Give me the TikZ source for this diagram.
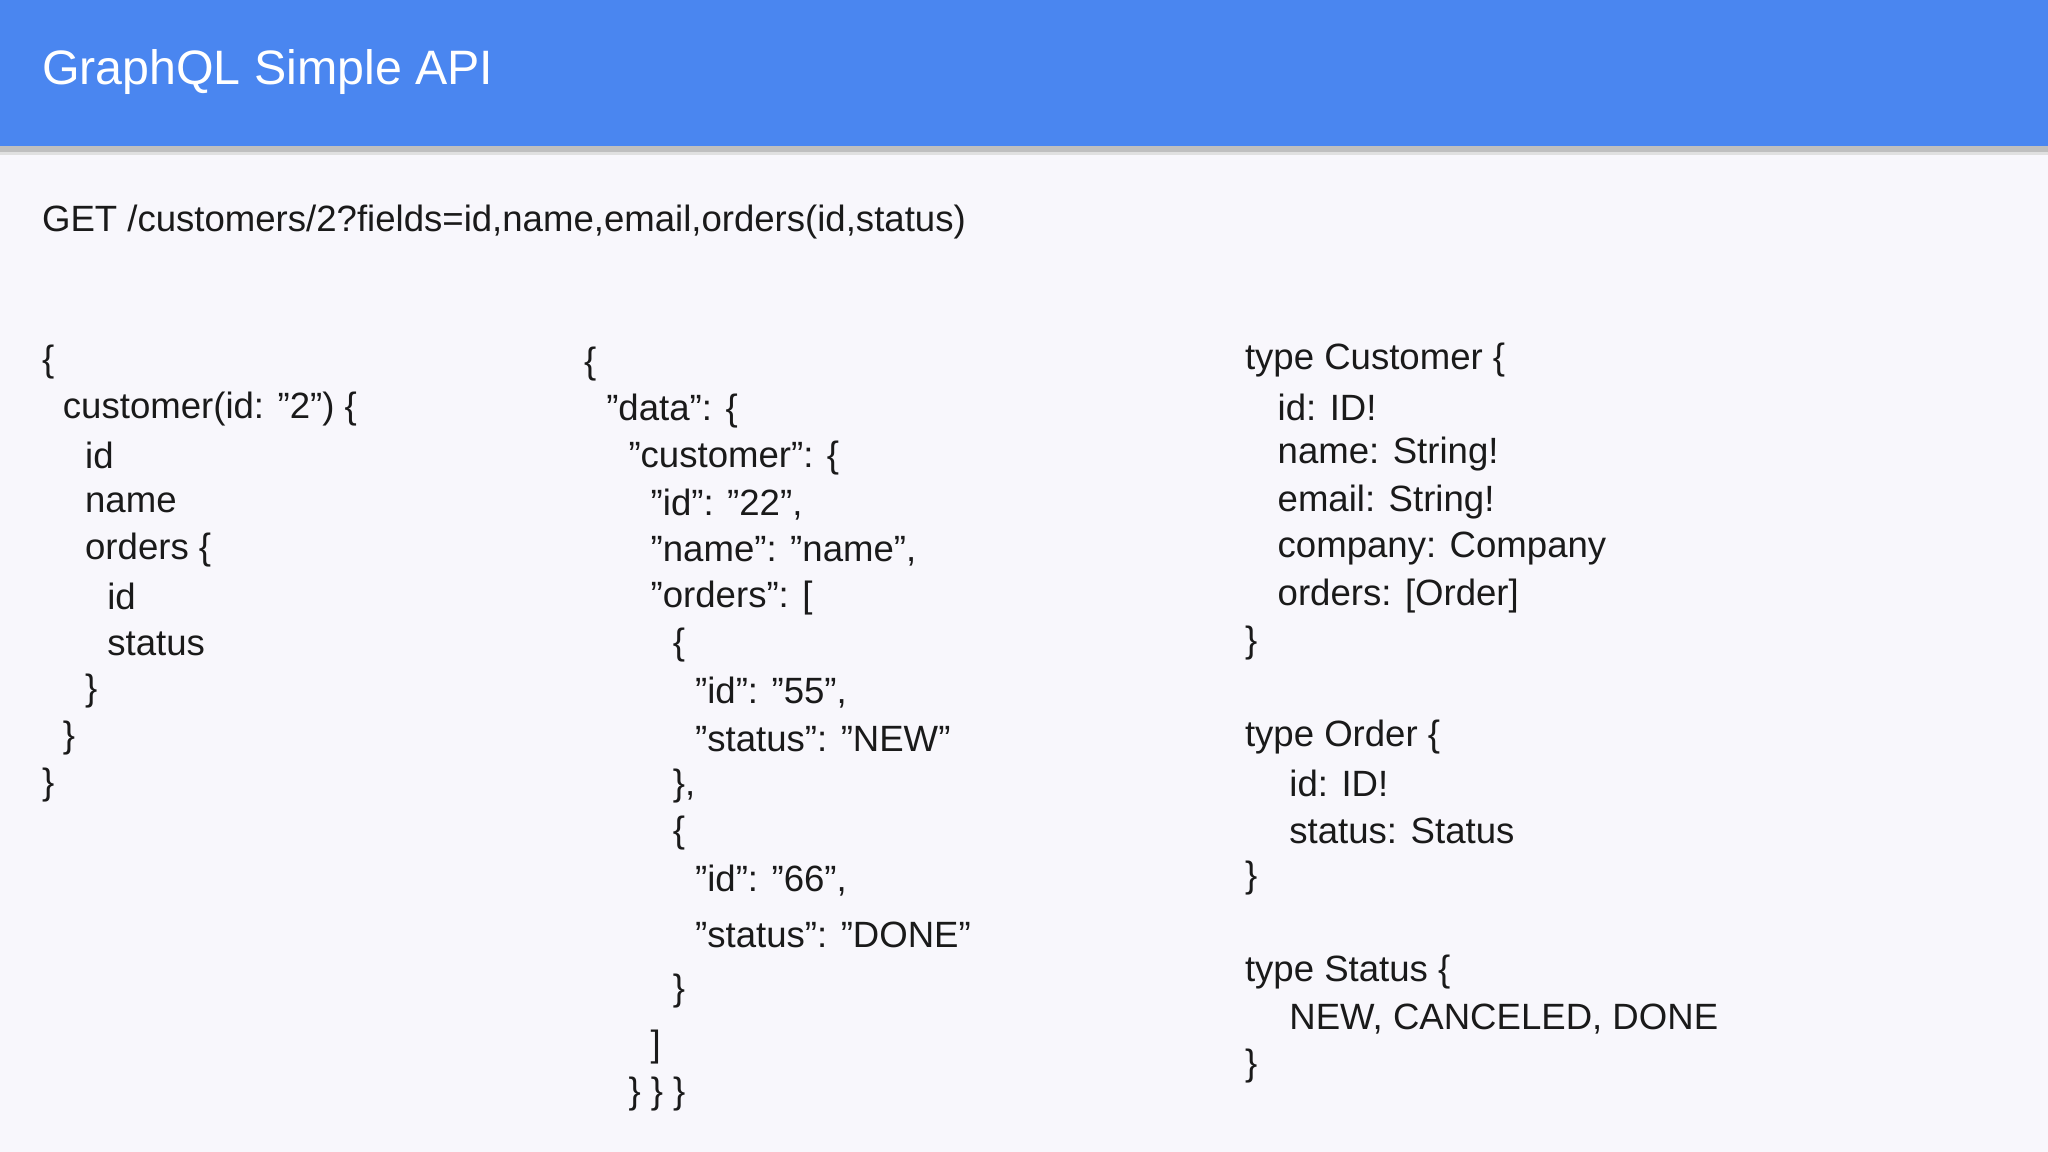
\documentclass[tikz,border=0pt]{standalone}
\usepackage{fontspec}
\setmainfont{Liberation Sans}
\definecolor{hdr}{HTML}{4A86F0}
\definecolor{bg}{HTML}{F8F7FC}
\definecolor{txt}{HTML}{1A1A1A}
\begin{document}
\begin{tikzpicture}[x=1pt,y=-1pt,
  ln/.style={anchor=west,inner sep=0pt,text=txt,font=\fontsize{28}{30}\selectfont},
  ttl/.style={anchor=west,inner sep=0pt,text=white,font=\fontsize{37}{40}\selectfont}]
\useasboundingbox (0,0) rectangle (1568,882);
\fill[bg] (0,0) rectangle (1568,882);
\fill[black!25] (0,112) rectangle (1568,116);
\fill[black!12] (0,116) rectangle (1568,119);
\fill[hdr] (0,0) rectangle (1568,112);
\node[ttl] (title) at (32,55) {GraphQL Simple API};
\node[ln] (get) at (32,170) {GET /customers/2?fields=id,name,email,orders(id,status)};
% left
\node[ln] (l1) at (32,277) {\{};
\node[ln] (l2) at (48,313) {customer(id: "2") \{};
\node[ln] (l3) at (65,349) {id};
\node[ln] (l4) at (65,385) {name};
\node[ln] (l5) at (65,421) {orders \{};
\node[ln] (l6) at (82,457) {id};
\node[ln] (l7) at (82,493) {status};
\node[ln] (l8) at (65,529) {\}};
\node[ln] (l9) at (48,565) {\}};
\node[ln] (l10) at (32,601) {\}};
% middle
\node[ln] (m1) at (447,279) {\{};
\node[ln] (m2) at (464,315) {"data": \{};
\node[ln] (m3) at (481,351) {"customer": \{};
\node[ln] (m4) at (498,386) {"id": "22",};
\node[ln] (m5) at (498,422) {"name": "name",};
\node[ln] (m6) at (498,458) {"orders": [};
\node[ln] (m7) at (515,494) {\{};
\node[ln] (m8) at (532,530) {"id": "55",};
\node[ln] (m9) at (532,566) {"status": "NEW"};
\node[ln] (m10) at (515,602) {\},};
\node[ln] (m11) at (515,638) {\{};
\node[ln] (m12) at (532,674) {"id": "66",};
\node[ln] (m13) at (532,716) {"status": "DONE"};
\node[ln] (m14) at (515,759) {\}};
\node[ln] (m15) at (498,802) {]};
\node[ln] (m16) at (481,838) {\} \} \}};
% right
\node[ln] (r1) at (953,276) {type Customer \{};
\node[ln] (r2) at (978,312) {id: ID!};
\node[ln] (r3) at (978,348) {name: String!};
\node[ln] (r4) at (978,384) {email: String!};
\node[ln] (r5) at (978,420) {company: Company};
\node[ln] (r6) at (978,456) {orders: [Order]};
\node[ln] (r7) at (953,492) {\}};
\node[ln] (r8) at (953,564) {type Order \{};
\node[ln] (r9) at (987,600) {id: ID!};
\node[ln] (r10) at (987,636) {status: Status};
\node[ln] (r11) at (953,672) {\}};
\node[ln] (r12) at (953,744) {type Status \{};
\node[ln] (r13) at (987,780) {NEW, CANCELED, DONE};
\node[ln] (r14) at (953,816) {\}};
\end{tikzpicture}
\end{document}
